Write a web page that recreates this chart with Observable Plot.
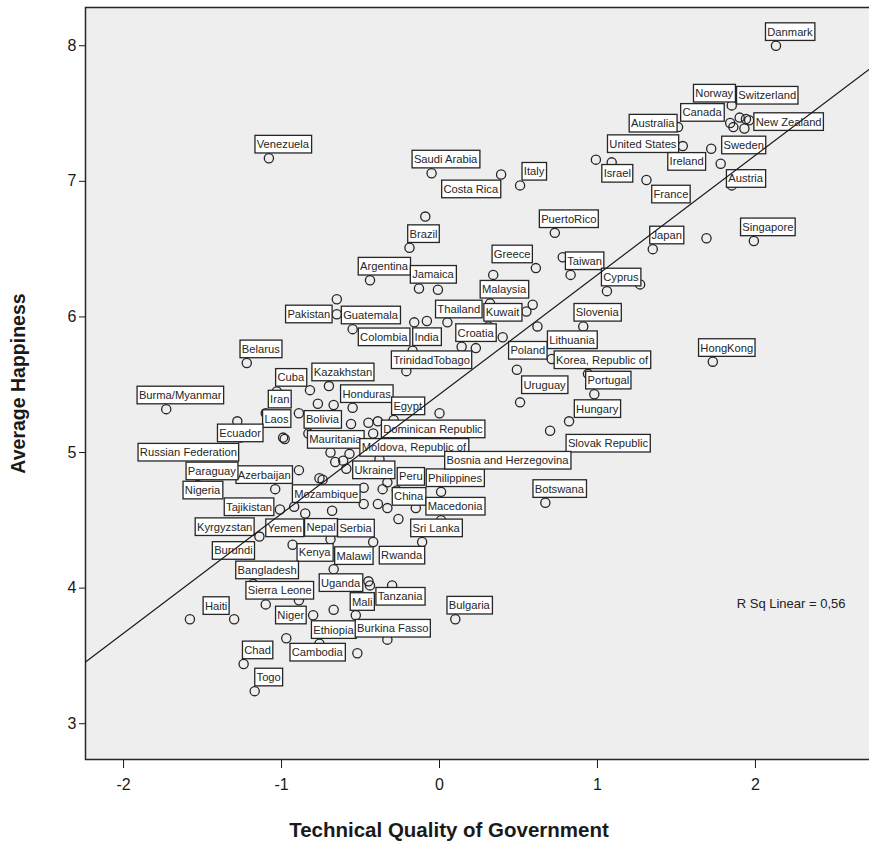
<!DOCTYPE html>
<html>
<head>
<meta charset="utf-8">
<script src="https://cdn.jsdelivr.net/npm/d3@7"></script>
<script src="https://cdn.jsdelivr.net/npm/@observablehq/plot@0.6"></script>
<style>
  html, body { margin: 0; padding: 0; background: #fff; overflow: hidden; }
</style>
</head>
<body>
<div id="chart"></div>
<script>
// ---- data ----
const countries = [
  "Danmark","Norway","Switzerland","New Zealand","Canada","","","",
  "Australia","United States","Sweden","Ireland","Austria","Israel","","France",
  "Italy","Costa Rica","Saudi Arabia","Venezuela","","Brazil","PuertoRico","Japan",
  "","Singapore","HongKong","Greece","","","Taiwan","Cyprus",
  "","Argentina","Jamaica","","","Pakistan","Guatemala","Colombia",
  "","India","Thailand","Malaysia","Kuwait","","","Slovenia",
  "","Croatia","","","TrinidadTobago","Lithuania","Korea, Republic of","Poland",
  "Portugal","Uruguay","Hungary","Slovak Republic","Botswana","Belarus","Burma/Myanmar","Cuba",
  "Kazakhstan","","Iran","Honduras","","","Egypt","",
  "Laos","Bolivia","","","","","","Ecuador",
  "Russian Federation","Dominican Republic","Mauritania","","Moldova, Republic of","","","",
  "","Ukraine","","","","Peru","","",
  "Philippines","Mozambique","China","Macedonia","Bosnia and Herzegovina","Sri Lanka","Nepal","Serbia",
  "Malawi","Kenya","Yemen","Rwanda","Burundi","Kyrgyzstan","Tajikistan","Azerbaijan",
  "Paraguay","Nigeria","Bangladesh","Sierra Leone","Haiti","","Niger","Uganda",
  "","Tanzania","Mali","Ethiopia","Burkina Fasso","Cambodia","","",
  "","Bulgaria","Chad","Togo","","","","",
  "",""
];
const quality = [
  2.13, 1.85, 1.94, 1.96, 1.84, 1.86, 1.93, 1.90,
  1.51, 1.54, 1.72, 1.78, 1.85, 0.99, 1.09, 1.31,
  0.51, 0.39, -0.05, -1.08, -0.09, -0.19, 0.73, 1.35,
  1.69, 1.99, 1.73, 0.34, 0.61, 0.78, 0.83, 1.06,
  1.27, -0.44, -0.13, -0.01, -0.65, -0.65, -0.55, -0.16,
  -0.08, -0.17, 0.05, 0.32, 0.31, 0.59, 0.55, 0.91,
  0.62, 0.14, 0.23, 0.40, -0.21, 0.71, 0.94, 0.49,
  0.98, 0.51, 0.82, 0.70, 0.67, -1.22, -1.73, -1.03,
  -0.70, -0.82, -1.10, -0.55, -0.67, -0.77, -0.29, 0.00,
  -0.89, -0.83, -0.56, -0.45, -0.39, -0.99, -0.98, -1.28,
  -1.26, -0.13, -0.69, -0.42, -0.38, -0.57, -0.66, -0.61,
  -0.59, -0.48, -0.89, -0.76, -0.74, -0.27, -0.33, -0.36,
  0.01, -0.85, -0.33, 0.01, 0.43, -0.11, -0.69, -0.42,
  -0.67, -0.79, -0.93, -0.24, -1.14, -1.36, -1.01, -1.04,
  -1.53, -1.50, -1.18, -1.10, -1.58, -1.30, -0.80, -0.45,
  -0.44, -0.30, -0.53, -0.76, -0.33, -0.52, -0.67, -0.97,
  -0.89, 0.10, -1.24, -1.17, -0.92, -0.68, -0.48, -0.39,
  -0.15, -0.26
];
const happiness = [
  8.00, 7.56, 7.46, 7.45, 7.43, 7.40, 7.39, 7.47,
  7.40, 7.26, 7.24, 7.13, 6.97, 7.16, 7.14, 7.01,
  6.97, 7.05, 7.06, 7.17, 6.74, 6.51, 6.62, 6.50,
  6.58, 6.56, 5.67, 6.31, 6.36, 6.44, 6.31, 6.19,
  6.24, 6.27, 6.21, 6.20, 6.13, 6.02, 5.91, 5.96,
  5.97, 5.75, 5.96, 6.10, 5.93, 6.09, 6.04, 5.93,
  5.93, 5.78, 5.77, 5.85, 5.60, 5.69, 5.58, 5.61,
  5.43, 5.37, 5.23, 5.16, 4.63, 5.66, 5.32, 5.45,
  5.49, 5.46, 5.29, 5.33, 5.35, 5.36, 5.24, 5.29,
  5.29, 5.14, 5.21, 5.22, 5.23, 5.11, 5.10, 5.23,
  5.11, 5.07, 5.00, 5.14, 4.95, 4.99, 4.93, 4.94,
  4.88, 4.74, 4.87, 4.81, 4.80, 4.72, 4.78, 4.73,
  4.71, 4.55, 4.59, 4.50, 4.94, 4.34, 4.36, 4.34,
  4.14, 4.26, 4.32, 4.24, 4.38, 4.45, 4.58, 4.73,
  4.76, 4.72, 4.03, 3.88, 3.77, 3.77, 3.80, 4.05,
  4.02, 4.02, 3.80, 3.59, 3.62, 3.52, 3.84, 3.63,
  3.91, 3.77, 3.44, 3.24, 4.60, 4.57, 4.62, 4.62,
  4.59, 4.51
];
const xTicks = [-2, -1, 0, 1, 2];
const yTicks = [3, 4, 5, 6, 7, 8];
const fitIntercept = 5.43;   // fit line
const fitSlope = 0.881;
const rSquaredText = "R Sq Linear = 0,56";
const xTitle = "Technical Quality of Government";
const yTitle = "Average Happiness";

// ---- label layout (pixel offsets of each label box centre from its point) ----
const defaultOffset = [14, -13.7];
const labelOffset = {
  "Norway": [-17.5, -11.8], "Switzerland": [21.3, -23.3], "New Zealand": [39.5, 1.7],
  "Canada": [-28.1, -10.2], "Australia": [-25.3, -3.5], "United States": [-39.9, -2],
  "Sweden": [32.5, -3.4], "Ireland": [-34, -1.9], "Austria": [13.9, -6.5],
  "Israel": [21.4, 14.1], "France": [24.5, 14.5], "Costa Rica": [-30.3, 14.8],
  "Greece": [19, -20.5], "Pakistan": [-28, 0.2], "Guatemala": [17.9, -13.7],
  "Colombia": [-30.5, 14.9], "Thailand": [11.4, -12.9], "TrinidadTobago": [25.2, -11],
  "Lithuania": [20.3, -18.8], "Poland": [10.9, -19.1], "Uruguay": [24.5, -17.2],
  "Hungary": [28.2, -12.3], "Slovak Republic": [57.9, 12.8], "Laos": [-22.4, 5.8],
  "Ecuador": [2.8, 12], "Russian Federation": [-52.1, 15], "Mauritania": [4.9, -12.7],
  "Moldova, Republic of": [34.4, -11.5], "Ukraine": [10.1, -17.5],
  "Mozambique": [21, -19.5], "China": [21.3, -11.3], "Bosnia and Herzegovina": [0, 0],
  "Nepal": [-9.5, -11.5], "Serbia": [-17.6, -13.5], "Malawi": [20.2, -13.1],
  "Kenya": [0, 0], "Yemen": [-7.8, -16.5], "Rwanda": [0, 0], "Burundi": [-26, 14.3],
  "Kyrgyzstan": [0, 0], "Tajikistan": [-30.9, -2.3], "Azerbaijan": [-11, -14.1],
  "Nigeria": [0, 0], "Haiti": [26.2, -13.3], "Niger": [-22.4, 0.2], "Uganda": [-27.8, 1.7],
  "Tanzania": [8, 11.3], "Mali": [6.5, -13.3], "Burkina Fasso": [5.4, -11],
  "Cambodia": [-40.1, -0.6]
};

const points = countries.map((name, i) => ({name, quality: quality[i], happiness: happiness[i]}));
const xDomain = [-2.241, 2.741];
const yDomain = [2.736, 8.282];
const fitData = xDomain.map(q => ({q, h: fitIntercept + fitSlope * q}));

const font = "'Liberation Sans', Arial, Helvetica, sans-serif";

const labelMarks = points.filter(d => d.name).map(d => {
  const [dx, dy] = labelOffset[d.name] || defaultOffset;
  return Plot.text([d], {
    x: "quality", y: "happiness", text: "name", dx, dy,
    fontSize: 11.2, fill: "#262626", textAnchor: "middle", lineAnchor: "middle",
    ariaDescription: "country-label"
  });
});

const svg = Plot.plot({
  width: 869,
  height: 847,
  marginLeft: 85,
  marginTop: 7,
  marginRight: -3,
  marginBottom: 88,
  style: {fontFamily: font, fontSize: "16px", color: "#1a1a1a", background: "#fff", overflow: "visible"},
  x: {domain: xDomain, ticks: xTicks, tickSize: 9, tickPadding: 10, tickFormat: d => String(d), label: null},
  y: {domain: yDomain, ticks: yTicks, tickSize: 6, tickPadding: 3, tickFormat: d => String(d), label: null},
  marks: [
    Plot.frame({fill: "#eeeeee"}),
    Plot.dot(points, {x: "quality", y: "happiness", r: 4.6, stroke: "#262626", strokeWidth: 1.3, fill: "none"}),
    ...labelMarks,
    Plot.line(fitData, {x: "q", y: "h", stroke: "#1a1a1a", strokeWidth: 1.2}),
    Plot.text([rSquaredText], {text: d => d, frameAnchor: "bottom-right", textAnchor: "end", dx: -27, dy: -152, fontSize: 13, fill: "#222"}),
    Plot.text([xTitle], {text: d => d, frameAnchor: "bottom", textAnchor: "middle", lineAnchor: "middle", dx: -30, dy: 71, fontSize: 20.5, fontWeight: "bold", fill: "#1a1a1a"}),
    Plot.text([yTitle], {text: d => d, frameAnchor: "left", textAnchor: "middle", lineAnchor: "middle", rotate: -90, dx: -67, fontSize: 19.5, fontWeight: "bold", fill: "#1a1a1a"}),
    Plot.frame({stroke: "#262626", strokeWidth: 1.5})
  ]
});

document.getElementById("chart").append(svg);

// white boxes behind each country label
const NS = "http://www.w3.org/2000/svg";
svg.querySelectorAll('g[aria-description="country-label"] text').forEach(t => {
  const b = t.getBBox();
  const r = document.createElementNS(NS, "rect");
  r.setAttribute("x", b.x - 1.8);
  r.setAttribute("y", b.y - 2.8);
  r.setAttribute("width", b.width + 3.6);
  r.setAttribute("height", b.height + 5.6);
  r.setAttribute("fill", "#ffffff");
  r.setAttribute("stroke", "#262626");
  r.setAttribute("stroke-width", "1.3");
  const tr = t.getAttribute("transform");
  if (tr) r.setAttribute("transform", tr);
  t.parentNode.insertBefore(r, t);
});
</script>
</body>
</html>
